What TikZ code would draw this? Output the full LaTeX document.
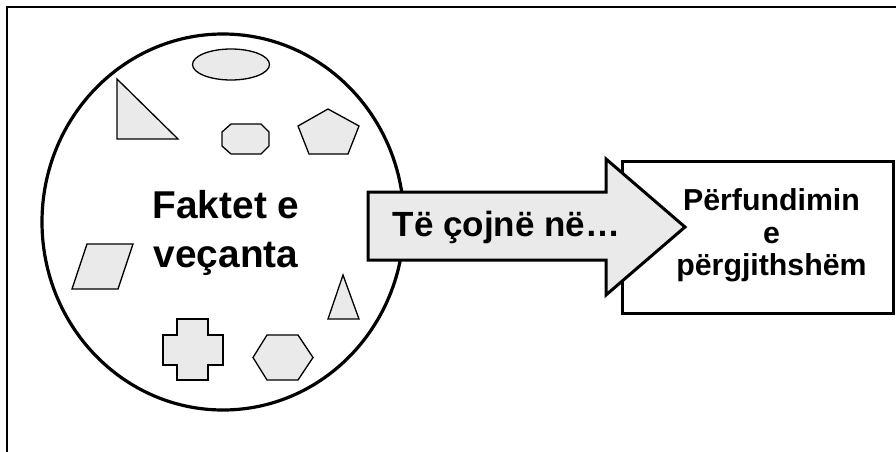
\documentclass[tikz,border=0pt]{standalone}
\usepackage{fontspec}
\setmainfont{Liberation Sans}
\usetikzlibrary{shapes.geometric}
\definecolor{shapefill}{RGB}{234,234,234}
\begin{document}
\begin{tikzpicture}[x=1pt,y=-1pt,line join=miter,
  piece/.style={draw=black,fill=shapefill,line width=1.3pt},
  heavy/.style={draw=black,line width=3pt},
  lbl/.style={font=\bfseries,inner sep=0pt,anchor=base}]
\useasboundingbox (0,0) rectangle (896,452);
% frame
\coordinate (frameTR) at (896,7);
\coordinate (frameTL) at (7,7);
\coordinate (frameBL) at (7,452);
\draw[line width=2pt] (frameTR) -- (frameTL) -- (frameBL);
% big circle
\node[heavy,line width=3.2pt,ellipse,minimum width=362pt,minimum height=376pt,inner sep=0pt] (facts) at (223,222) {};
% small shapes
\draw[piece] (231,64.5) ellipse [x radius=38.5pt, y radius=15.5pt];
\draw[piece] (117,79) -- (117,139) -- (178,139) -- cycle;
\draw[piece] (231,124) -- (261,124) -- (269,132) -- (269,146) -- (261,154) -- (231,154) -- (222,146) -- (222,132) -- cycle;
\draw[piece] (328,109) -- (359,126) -- (348,154) -- (309,154) -- (298,126) -- cycle;
\draw[piece] (87,244) -- (133,244) -- (118,289) -- (72,289) -- cycle;
\draw[piece] (343,275) -- (359,319) -- (328,319) -- cycle;
\draw[piece] (177,319) -- (208,319) -- (208,335) -- (223,335) -- (223,365) -- (208,365) -- (208,380) -- (177,380) -- (177,365) -- (163,365) -- (163,335) -- (177,335) -- cycle;
\draw[piece] (253,357.5) -- (267,335) -- (298,335) -- (313,357.5) -- (298,380) -- (267,380) -- cycle;
% circle text
\node[lbl,font=\bfseries\fontsize{38.8}{44}\selectfont] (factsA) at (226,218.3) {Faktet e};
\node[lbl,font=\bfseries\fontsize{38.8}{44}\selectfont] (factsB) at (226,267.3) {veçanta};
% result box
\node[heavy,fill=white,minimum width=271pt,minimum height=152pt,inner sep=0pt] (result) at (757.5,237) {};
\node[lbl,font=\bfseries\fontsize{30.3}{33}\selectfont] (resA) at (771.5,210) {Përfundimin};
\node[lbl,font=\bfseries\fontsize{30.3}{33}\selectfont] (resB) at (771.5,243) {e};
\node[lbl,font=\bfseries\fontsize{30.3}{33}\selectfont] (resC) at (771.5,275) {përgjithshëm};
% block arrow
\draw[heavy,fill=shapefill] (368,192) -- (606,192) -- (606,159) -- (685,227) -- (606,295) -- (606,260) -- (368,260) -- cycle;
\node[lbl,font=\bfseries\fontsize{35}{40}\selectfont] (leads) at (506.5,236.7) {Të çojnë në…};
\end{tikzpicture}
\end{document}
